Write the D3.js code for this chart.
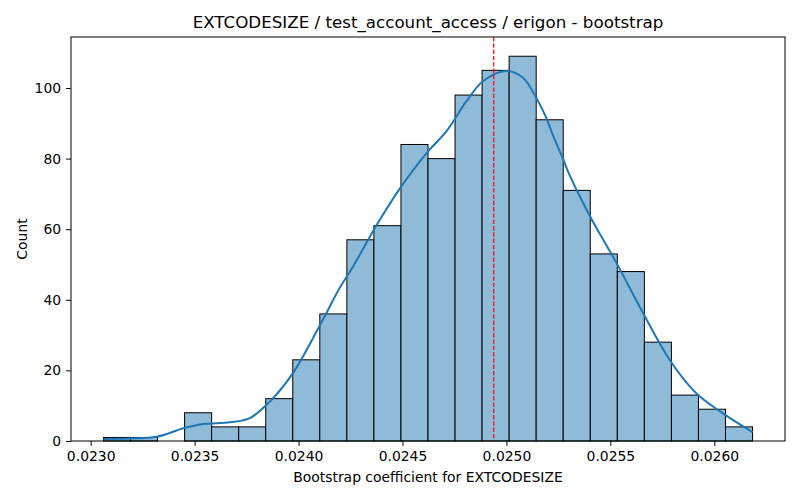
<!DOCTYPE html>
<html>
<head>
<meta charset="utf-8">
<script src="https://cdn.jsdelivr.net/npm/d3@7"></script>
<style>
  body { margin: 0; background: #fff; }
  svg text { font-family: "DejaVu Sans", sans-serif; fill: #000; }
</style>
</head>
<body>
<svg id="chart" width="800" height="500"></svg>
<script>
// histogram: 24 equal bins between the sample min and max
var binLow = 0.0230615, binHigh = 0.026184;
var counts = [1, 1, 0, 8, 4, 4, 12, 23, 36, 57, 61, 84, 80, 98, 105, 109, 91, 71, 53, 48, 28, 13, 9, 4];

// kde curve (scaled to counts)
var kdeX = [0.023062, 0.02319, 0.023318, 0.023446, 0.023542, 0.02367, 0.023766, 0.023862, 0.023974,
            0.024118, 0.024199, 0.024255, 0.024375, 0.024487, 0.024615, 0.024711, 0.024807, 0.024887,
            0.024999, 0.025079, 0.025144, 0.025192, 0.025223, 0.025271, 0.025304, 0.0254, 0.025528,
            0.025656, 0.025784, 0.025912, 0.02604, 0.026184];
var kdeY = [0.6, 0.7, 1.2, 3.6, 4.8, 5.3, 6.5, 11.2, 19.3,
            34.5, 43.5, 48.7, 61.1, 71.5, 81.5, 87.7, 96.2, 101.9,
            104.8, 102.9, 97.2, 91.5, 86.7, 80.1, 75.3, 63.9, 50.6,
            36.4, 23.1, 13.6, 7.9, 2.5];

var meanValue = 0.024939;
var xTicks = [0.0230, 0.0235, 0.0240, 0.0245, 0.0250, 0.0255, 0.0260];
var yTicks = [0, 20, 40, 60, 80, 100];
var title = "EXTCODESIZE / test_account_access / erigon - bootstrap";
var xLabel = "Bootstrap coefficient for EXTCODESIZE";
var yLabel = "Count";

var Hist = (function(){
  var pLeft = 71, pRight = 785, pTop = 37, pBottom = 441;
  var svg = d3.select("#chart");

  function draw(){
    var binW = (binHigh - binLow) / counts.length;
    var bins = counts.map(function(c, i){
      return { x0: binLow + i * binW, x1: binLow + (i + 1) * binW, n: c };
    });

    var pad = (binHigh - binLow) * 0.05;
    var x = d3.scaleLinear().domain([binLow - pad, binHigh + pad]).range([pLeft, pRight]);
    var y = d3.scaleLinear().domain([0, d3.max(counts) * 1.05]).range([pBottom, pTop]);

    // bars
    svg.append("g").selectAll("rect")
      .data(bins.filter(function(b){ return b.n > 0; }))
      .enter().append("rect")
      .attr("x", function(b){ return x(b.x0); })
      .attr("y", function(b){ return y(b.n); })
      .attr("width", function(b){ return x(b.x1) - x(b.x0); })
      .attr("height", function(b){ return y(0) - y(b.n); })
      .style("fill", "#8fbbd9")
      .style("stroke", "#000")
      .style("stroke-width", "1px");

    // kde
    var line = d3.line()
      .x(function(d){ return x(d[0]); })
      .y(function(d){ return y(d[1]); })
      .curve(d3.curveCatmullRom);
    svg.append("path")
      .datum(d3.zip(kdeX, kdeY))
      .attr("d", line)
      .style("fill", "none")
      .style("stroke", "#1f77b4")
      .style("stroke-width", "2px");

    // mean line
    svg.append("line")
      .attr("x1", x(meanValue)).attr("x2", x(meanValue))
      .attr("y1", pTop).attr("y2", pBottom)
      .style("stroke", "red")
      .style("stroke-width", "1.2px")
      .style("stroke-dasharray", "4.4,1.9");

    // frame
    svg.append("rect")
      .attr("x", pLeft).attr("y", pTop)
      .attr("width", pRight - pLeft).attr("height", pBottom - pTop)
      .style("fill", "none").style("stroke", "#000").style("stroke-width", "1px");

    // axes
    var xAxis = svg.append("g")
      .attr("transform", "translate(0," + pBottom + ")")
      .call(d3.axisBottom(x).tickValues(xTicks).tickFormat(d3.format(".4f")).tickSize(4.9).tickPadding(5));
    var yAxis = svg.append("g")
      .attr("transform", "translate(" + pLeft + ",0)")
      .call(d3.axisLeft(y).tickValues(yTicks).tickSize(4.9).tickPadding(5));
    [xAxis, yAxis].forEach(function(a){
      a.select(".domain").remove();
      a.selectAll("line").style("stroke", "#000");
      a.selectAll("text").style("font-size", "13.9px").style("font-family", "DejaVu Sans, sans-serif");
    });

    // labels
    svg.append("text")
      .attr("x", (pLeft + pRight) / 2).attr("y", 28)
      .attr("text-anchor", "middle")
      .style("font-size", "16.7px")
      .text(title);
    svg.append("text")
      .attr("x", (pLeft + pRight) / 2).attr("y", 482)
      .attr("text-anchor", "middle")
      .style("font-size", "13.9px")
      .text(xLabel);
    svg.append("text")
      .attr("transform", "translate(27," + (pTop + pBottom) / 2 + ") rotate(-90)")
      .attr("text-anchor", "middle")
      .style("font-size", "13.9px")
      .text(yLabel);
  }

  return { init: draw };
})();

Hist.init();
</script>
</body>
</html>
